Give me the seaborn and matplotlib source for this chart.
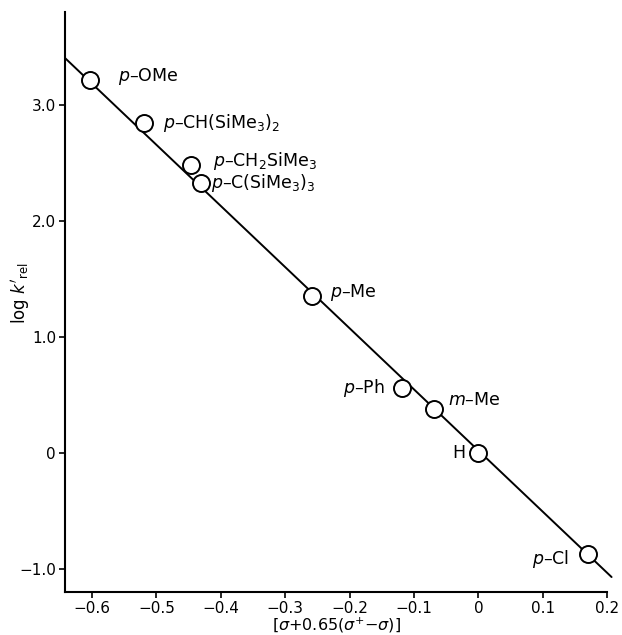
import matplotlib

matplotlib.use("Agg")

import matplotlib.pyplot as plt
import numpy as np
import pandas as pd
import seaborn as sns

# --- data ---
substituents = [
    r"$p$–OMe",
    r"$p$–CH(SiMe$_3$)$_2$",
    r"$p$–CH$_2$SiMe$_3$",
    r"$p$–C(SiMe$_3$)$_3$",
    r"$p$–Me",
    r"$p$–Ph",
    r"$m$–Me",
    "H",
    r"$p$–Cl",
]
sigma_mix = [-0.603, -0.520, -0.447, -0.431, -0.258, -0.119, -0.069, 0.0, 0.171]
log_krel = [3.21, 2.84, 2.48, 2.33, 1.35, 0.56, 0.38, 0.0, -0.87]

# label offsets in points (dx, dy) and alignment
label_dx = [20, 14, 16, 7, 13, -12, 10, -9, -14]
label_dy = [3, 0, 3, 0, 3, 0, 6, 0, -4]
label_ha = ["left", "left", "left", "left", "left", "right", "left", "right", "right"]

# correlation line
fit_slope = -5.27
fit_intercept = 0.02
fit_x_end = 0.207

xticks = [-0.6, -0.5, -0.4, -0.3, -0.2, -0.1, 0.0, 0.1, 0.2]
xtick_labels = ["−0.6", "−0.5", "−0.4", "−0.3", "−0.2", "−0.1", "0", "0.1", "0.2"]
yticks = [3.0, 2.0, 1.0, 0.0, -1.0]
ytick_labels = ["3.0", "2.0", "1.0", "0", "−1.0"]


def main():
    sns.set_theme(style="ticks")
    plt.rcParams["font.family"] = ["DejaVu Sans"]
    plt.rcParams["mathtext.fontset"] = "dejavusans"
    for key in ["text.color", "axes.labelcolor", "xtick.color", "ytick.color"]:
        plt.rcParams[key] = "black"

    df = pd.DataFrame({"x": sigma_mix, "y": log_krel, "label": substituents})

    fig = plt.figure(figsize=(6.22, 6.35), dpi=100)
    ax = fig.add_axes([0.1045, 0.0677, 0.8715, 0.9134])

    xlim = (-0.642, 0.2)
    ylim = (-1.2, 3.80)

    line_x = np.array([xlim[0], fit_x_end])
    line_y = fit_slope * line_x + fit_intercept
    ax.plot(line_x, line_y, color="black", lw=1.4, clip_on=False, zorder=2)

    sns.scatterplot(
        data=df,
        x="x",
        y="y",
        ax=ax,
        s=150,
        facecolor="white",
        edgecolor="black",
        linewidth=1.4,
        zorder=3,
        clip_on=False,
    )

    for i, row in df.iterrows():
        ax.annotate(
            row["label"],
            (row["x"], row["y"]),
            xytext=(label_dx[i], label_dy[i]),
            textcoords="offset points",
            ha=label_ha[i],
            va="center",
            fontsize=12.5,
        )

    ax.set_xlim(*xlim)
    ax.set_ylim(*ylim)
    ax.set_xticks(xticks)
    ax.set_xticklabels(xtick_labels)
    ax.set_yticks(yticks)
    ax.set_yticklabels(ytick_labels)
    ax.tick_params(direction="out", length=4, width=1.2, labelsize=11, pad=2.5)

    sns.despine(ax=ax)
    for side in ["left", "bottom"]:
        ax.spines[side].set_linewidth(1.5)
        ax.spines[side].set_color("black")

    ax.set_xlabel(r"[$\sigma$+0.65($\sigma^{+}$−$\sigma$)]", fontsize=11.5, labelpad=0)
    ax.set_ylabel(r"log $k'_{\rm rel}$", fontsize=12)
    ax.yaxis.set_label_coords(-0.06, 0.515)

    fig.savefig("out.png", dpi=100)
    plt.close(fig)


if __name__ == "__main__":
    main()
